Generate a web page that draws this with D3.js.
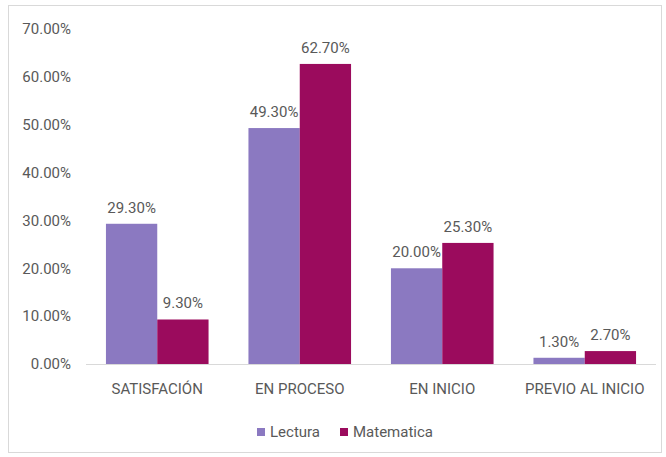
<!DOCTYPE html>
<html>
<head>
<meta charset="utf-8">
<script src="https://cdn.jsdelivr.net/npm/d3@7"></script>
<style>
  body { margin: 0; background: #fff; }
  text { font-family: "Liberation Sans Narrow", "Roboto", sans-serif; fill: #595959; }
</style>
</head>
<body>
<script>
// Data
const categories = ["SATISFACIÓN", "EN PROCESO", "EN INICIO", "PREVIO AL INICIO"];
const seriesNames = ["Lectura", "Matematica"];
const lectura = [29.3, 49.3, 20.0, 1.3];
const matematica = [9.3, 62.7, 25.3, 2.7];
const yTicks = [0, 10, 20, 30, 40, 50, 60, 70];

const colors = ["#8b79c1", "#9b0b5d"];

const width = 666, height = 457;
const margin = {top: 29, right: 10, bottom: 93, left: 86};

const svg = d3.select("body").append("svg")
    .attr("width", width)
    .attr("height", height);

// Chart border
svg.append("rect")
    .attr("x", 8.5).attr("y", 5.5)
    .attr("width", width - 13).attr("height", height - 10)
    .attr("fill", "none")
    .attr("stroke", "#d9d9d9");

const x = d3.scaleBand()
    .domain(categories)
    .range([margin.left, width - margin.right])
    .paddingInner(0.28)
    .paddingOuter(0.14);

const x1 = d3.scaleBand()
    .domain(seriesNames)
    .range([0, x.bandwidth()]);

const y = d3.scaleLinear()
    .domain([0, 70])
    .range([height - margin.bottom, margin.top]);

// Y axis labels
svg.append("g").selectAll("text")
    .data(yTicks)
  .enter().append("text")
    .attr("x", 71)
    .attr("y", d => y(d))
    .attr("dy", "0.35em")
    .attr("text-anchor", "end")
    .attr("font-size", "15px")
    .text(d => d.toFixed(2) + "%");

// Baseline
svg.append("line")
    .attr("x1", margin.left).attr("x2", width - margin.right)
    .attr("y1", y(0) + 0.5).attr("y2", y(0) + 0.5)
    .attr("stroke", "#d9d9d9");

const data = categories.map((c, i) => ({cat: c, values: [lectura[i], matematica[i]]}));

const groups = svg.selectAll(".group")
    .data(data)
  .enter().append("g")
    .attr("class", "group")
    .attr("transform", d => `translate(${x(d.cat)},0)`);

groups.selectAll("rect")
    .data(d => d.values.map((v, j) => ({key: seriesNames[j], v, j})))
  .enter().append("rect")
    .attr("x", d => x1(d.key))
    .attr("width", x1.bandwidth())
    .attr("y", d => y(d.v))
    .attr("height", d => y(0) - y(d.v))
    .attr("fill", d => colors[d.j]);

// Value labels
groups.selectAll(".val")
    .data(d => d.values.map((v, j) => ({key: seriesNames[j], v, j})))
  .enter().append("text")
    .attr("class", "val")
    .attr("x", d => x1(d.key) + x1.bandwidth() / 2)
    .attr("y", d => y(d.v) - 11)
    .attr("text-anchor", "middle")
    .attr("font-size", "15px")
    .text(d => d.v.toFixed(2) + "%");

// Category labels
svg.append("g").selectAll("text")
    .data(categories)
  .enter().append("text")
    .attr("x", d => x(d) + x.bandwidth() / 2)
    .attr("y", y(0) + 30)
    .attr("text-anchor", "middle")
    .attr("font-size", "15px")
    .text(d => d);

// Legend
const legendX = [257, 340];
const legend = svg.selectAll(".legend")
    .data(seriesNames)
  .enter().append("g")
    .attr("class", "legend")
    .attr("transform", (d, i) => `translate(${legendX[i]},432)`);

legend.append("rect")
    .attr("x", 0).attr("y", -4)
    .attr("width", 8).attr("height", 8)
    .attr("fill", (d, i) => colors[i]);

legend.append("text")
    .attr("x", 13)
    .attr("dy", "0.35em")
    .attr("font-size", "15px")
    .text(d => d);
</script>
</body>
</html>
